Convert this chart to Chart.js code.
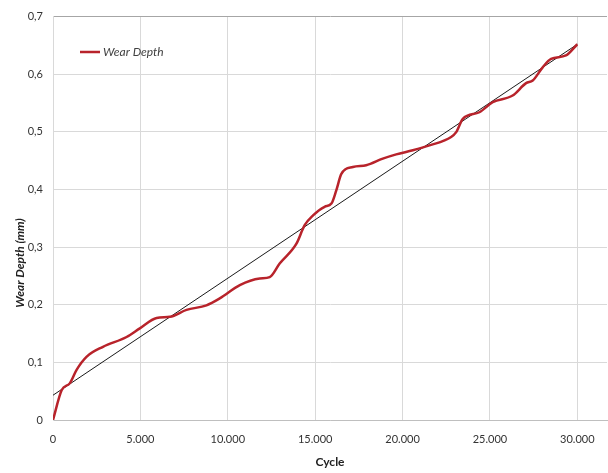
<!DOCTYPE html>
<html>
<head>
<meta charset="utf-8">
<script src="https://cdn.jsdelivr.net/npm/chart.js@4"></script>
<style>
  html, body { margin: 0; padding: 0; background: #fff; }
  #wrap { width: 608px; height: 473px; }
</style>
</head>
<body>
<div id="wrap"><canvas id="wear_graph" width="608" height="473"></canvas></div>
<script>
// measured wear depth (mm) against cycle count
const cycles = [0, 500, 970, 1350, 1930, 2860, 4210, 4970, 5930, 6690, 7640, 8780, 9540, 10690, 11830, 12400, 12970, 13930, 14400, 14880, 15540, 15930, 16210, 16500, 17160, 17920, 18870, 19640, 20590, 21540, 22780, 23070, 23450, 24400, 25160, 26300, 27070, 27450, 28020, 28500, 29350, 30000];
const depth  = [0, 0.052, 0.064, 0.087, 0.110, 0.127, 0.144, 0.159, 0.177, 0.179, 0.191, 0.199, 0.211, 0.234, 0.2455, 0.248, 0.2715, 0.306, 0.338, 0.355, 0.370, 0.3755, 0.3985, 0.427, 0.439, 0.442, 0.4535, 0.461, 0.468, 0.4765, 0.491, 0.4995, 0.5226, 0.534, 0.5515, 0.563, 0.5845, 0.589, 0.612, 0.6266, 0.6325, 0.652];

// linear trend line
const trend_x = [0, 30000];
const trend_y = [0.043, 0.652];

const x_ticks = [0, 5000, 10000, 15000, 20000, 25000, 30000];

const FONT = "Lato, 'Open Sans', sans-serif";

function fmt_thousands(v){
    return String(v).replace(/\B(?=(\d{3})+(?!\d))/g, ".");
}

// legend inside the plot area and the y title sitting a bit low, like the spreadsheet original
const extras = {
    id: "extras",
    afterDraw(chart){
        const ctx = chart.ctx;
        const ds  = chart.data.datasets[0];
        ctx.save();
        ctx.strokeStyle = ds.borderColor;
        ctx.lineWidth = 2.5;
        ctx.beginPath();
        ctx.moveTo(80, 52);
        ctx.lineTo(100, 52);
        ctx.stroke();
        ctx.fillStyle = "#404040";
        ctx.font = "italic 12px " + FONT;
        ctx.textBaseline = "middle";
        ctx.fillText(ds.label, 103, 52);

        ctx.translate(20, 263);
        ctx.rotate(-Math.PI / 2);
        ctx.fillStyle = "#222";
        ctx.font = "italic bold 12px " + FONT;
        ctx.textAlign = "center";
        ctx.fillText("Wear Depth (mm)", 0, 0);
        ctx.restore();
    }
};

const ctx = document.getElementById("wear_graph").getContext("2d");
const myChart = new Chart(ctx, {
    type: "line",
    data: {
        datasets: [{
            label: "Wear Depth",
            data: cycles.map((c, i) => ({x: c, y: depth[i]})),
            borderColor: "#b8232b",
            borderWidth: 2.5,
            pointRadius: 0,
            cubicInterpolationMode: "monotone",
            fill: false
        }, {
            label: "trend",
            data: trend_x.map((c, i) => ({x: c, y: trend_y[i]})),
            borderColor: "#1a1a1a",
            borderWidth: 1,
            pointRadius: 0,
            fill: false
        }]
    },
    options: {
        responsive: false,
        animation: false,
        layout: { padding: { top: 16, right: 1, left: 0, bottom: 0 } },
        plugins: {
            legend: { display: false },
            tooltip: { enabled: false }
        },
        scales: {
            x: {
                type: "linear",
                min: 0,
                max: 31700,
                afterBuildTicks: axis => { axis.ticks = x_ticks.map(v => ({value: v})); },
                afterFit: axis => { axis.height = 53; },
                ticks: {
                    color: "#333",
                    font: { family: FONT, size: 11 },
                    padding: 13,
                    maxRotation: 0,
                    callback: v => fmt_thousands(v)
                },
                grid: { color: "#d9d9d9", drawTicks: false },
                border: { color: "#bfbfbf" },
                title: {
                    display: true,
                    text: "Cycle",
                    color: "#222",
                    font: { family: FONT, size: 12, weight: "bold" },
                    padding: { top: 3 }
                }
            },
            y: {
                min: 0,
                max: 0.7,
                afterFit: axis => { axis.width = 53; },
                ticks: {
                    stepSize: 0.1,
                    color: "#333",
                    font: { family: FONT, size: 11 },
                    padding: 10,
                    callback: v => v === 0 ? "0" : v.toFixed(1).replace(".", ",")
                },
                grid: {
                    color: c => c.tick && Math.abs(c.tick.value - 0.7) < 1e-6 ? "#a6a6a6" : "#d9d9d9",
                    drawTicks: false
                },
                border: { color: "#d9d9d9" }
            }
        }
    },
    plugins: [extras]
});
</script>
</body>
</html>
